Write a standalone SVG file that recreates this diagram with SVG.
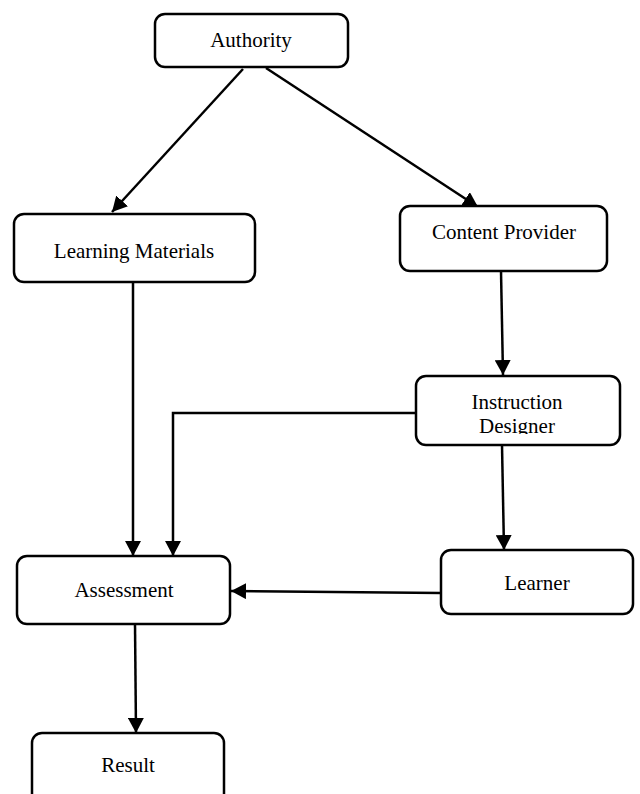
<svg xmlns="http://www.w3.org/2000/svg" width="640" height="794" viewBox="0 0 640 794">
<defs>
<style>
.box{fill:#fff;stroke:#000;stroke-width:2.5}
.lbl{font-family:"Liberation Serif","Times New Roman",serif;font-size:21px;fill:#000;text-anchor:middle}
.con{fill:none;stroke:#000;stroke-width:2.5}
</style>
<marker id="ah" markerUnits="userSpaceOnUse" markerWidth="16" markerHeight="16" refX="15" refY="8" orient="auto">
<path d="M0,0 L15,8 L0,16 z" fill="#000"/>
</marker>
<clipPath id="clipID"><rect x="416" y="376" width="204" height="58"/></clipPath>
</defs>
<rect width="640" height="794" fill="#fff"/>
<g id="connectors">
<line class="con" x1="243" y1="69" x2="112" y2="212" marker-end="url(#ah)"/>
<line class="con" x1="266" y1="68" x2="478" y2="207" marker-end="url(#ah)"/>
<line class="con" x1="133" y1="282" x2="133" y2="556" marker-end="url(#ah)"/>
<line class="con" x1="501" y1="271" x2="503" y2="375" marker-end="url(#ah)"/>
<polyline class="con" points="416,413 173,413 173,556" marker-end="url(#ah)"/>
<line class="con" x1="502" y1="445" x2="504" y2="550" marker-end="url(#ah)"/>
<line class="con" x1="441" y1="593" x2="231" y2="591" marker-end="url(#ah)"/>
<line class="con" x1="135" y1="624" x2="136" y2="733" marker-end="url(#ah)"/>
</g>
<g id="authority">
<rect class="box" x="155" y="14" width="193" height="53" rx="10"/>
<text class="lbl" x="251" y="47">Authority</text>
</g>
<g id="learning-materials">
<rect class="box" x="14" y="214" width="241" height="68" rx="10"/>
<text class="lbl" x="134" y="258">Learning Materials</text>
</g>
<g id="content-provider">
<rect class="box" x="400" y="206" width="207" height="65" rx="10"/>
<text class="lbl" x="504" y="239">Content Provider</text>
</g>
<g id="instruction-designer">
<rect class="box" x="416" y="376" width="204" height="69" rx="10"/>
<g clip-path="url(#clipID)">
<text class="lbl" x="517" y="409">Instruction</text>
<text class="lbl" x="517" y="433">Designer</text>
</g>
</g>
<g id="assessment">
<rect class="box" x="17" y="556" width="213" height="68" rx="10"/>
<text class="lbl" x="124" y="597">Assessment</text>
</g>
<g id="learner">
<rect class="box" x="441" y="550" width="192" height="64" rx="10"/>
<text class="lbl" x="537" y="590">Learner</text>
</g>
<g id="result">
<rect class="box" x="32" y="733" width="192" height="80" rx="10"/>
<text class="lbl" x="128" y="772">Result</text>
</g>
</svg>
